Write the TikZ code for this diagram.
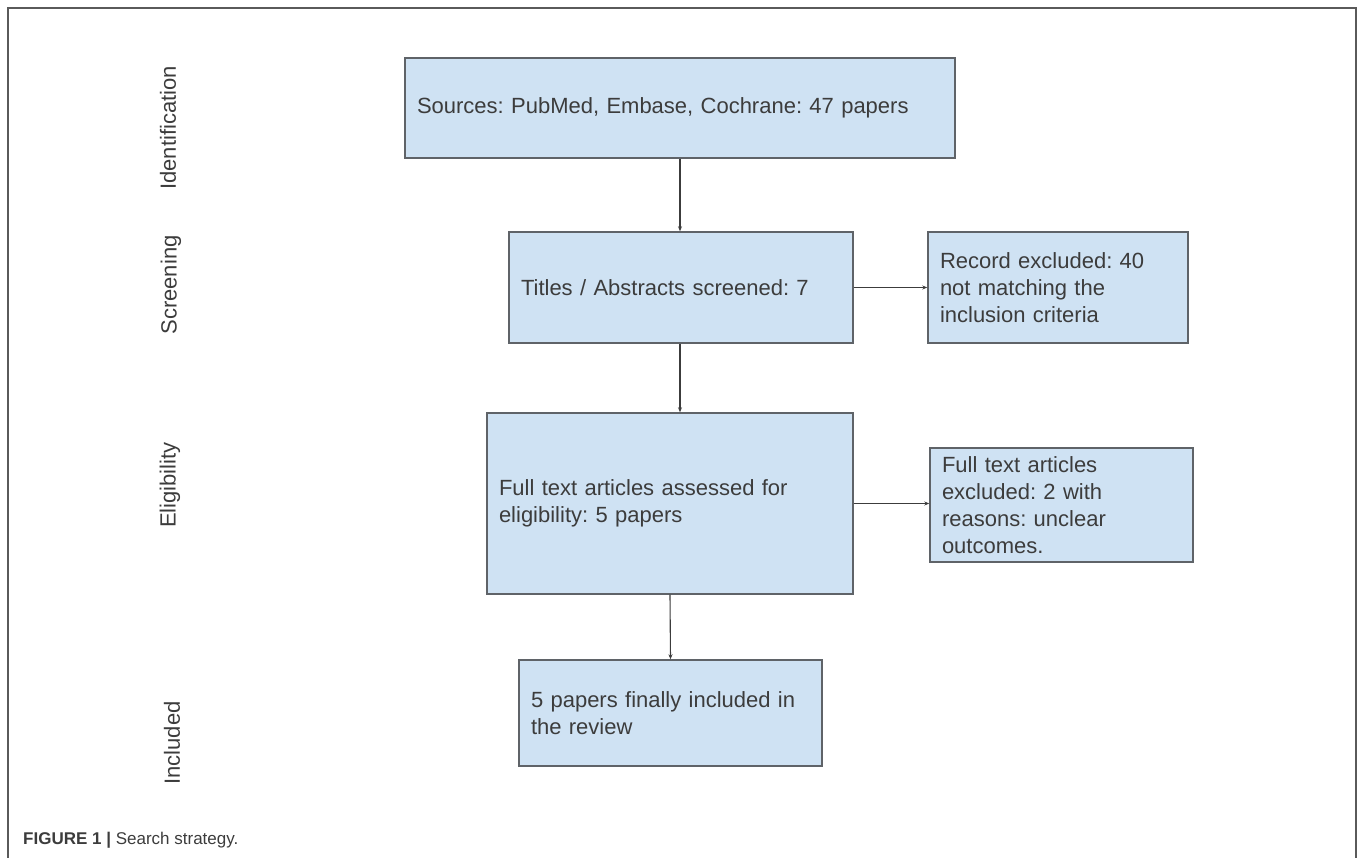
\documentclass[tikz,border=0pt]{standalone}
\usepackage{fontspec}
\setmainfont{Liberation Sans}
\usetikzlibrary{arrows.meta}
\definecolor{boxblue}{HTML}{CFE2F3}
\definecolor{bordergray}{HTML}{5F6368}
\definecolor{textgray}{HTML}{3C3C3C}
\definecolor{framegray}{HTML}{5A5A5A}
\frenchspacing
\tikzset{
  box/.style={draw=bordergray, fill=boxblue, line width=1.4pt, inner xsep=12pt, inner ysep=0pt,
    align=left, text=textgray, font=\fontsize{22}{27}\selectfont},
  stage/.style={rotate=90, text=textgray, font=\fontsize{22}{26}\selectfont},
  conn/.style={draw=textgray, line width=1.1pt, -{Stealth[length=5pt,width=4pt]}},
}
\begin{document}
\begin{tikzpicture}[x=1pt,y=-1pt]
\useasboundingbox (0,0) rectangle (1358,858);
% frame
\draw[framegray, line width=2pt] (8,858) -- (8,8) -- (1356,8) -- (1356,858);
% stage labels
\node[stage] (sid) at (168,128) {Identification};
\node[stage] (ssc) at (171,285) {Screening};
\node[stage] (sel) at (170,485) {Eligibility};
\node[stage] (sin) at (172,743) {Included};
% boxes
\node[box, text width=526pt, minimum height=100pt] (b1) at (680,108) {Sources: PubMed, Embase, Cochrane: 47 papers};
\node[box, text width=320pt, minimum height=111pt] (b2) at (681,287.5) {Titles / Abstracts screened: 7};
\node[box, text width=236pt, minimum height=111pt] (b3) at (1058,287.5) {Record excluded: 40\\not matching the\\inclusion criteria};
\node[box, text width=342pt, minimum height=181pt] (b4) at (670,503.5) {Full text articles assessed for\\eligibility: 5 papers};
\node[box, text width=239pt, minimum height=114pt] (b5) at (1061.5,505) {Full text articles\\excluded: 2 with\\reasons: unclear\\outcomes.};
\node[box, text width=279pt, minimum height=106pt] (b6) at (670.5,713) {5 papers finally included in\\the review};
% connectors
\draw[conn] (b1.south) -- (b2.north -| b1.south);
\draw[conn] (b2.east) -- (b3.west);
\draw[conn] (b2.south -| b1.south) -- (b4.north -| b1.south);
\draw[conn] (b4.east) -- (b5.west |- b4.east);
\draw[conn] (b4.south) -- (b6.north);
% caption
\node[anchor=west, text=textgray, font=\fontsize{17}{20}\selectfont, inner sep=0pt] (cap) at (23,840) {\textbf{FIGURE 1 |} Search strategy.};
\end{tikzpicture}
\end{document}
